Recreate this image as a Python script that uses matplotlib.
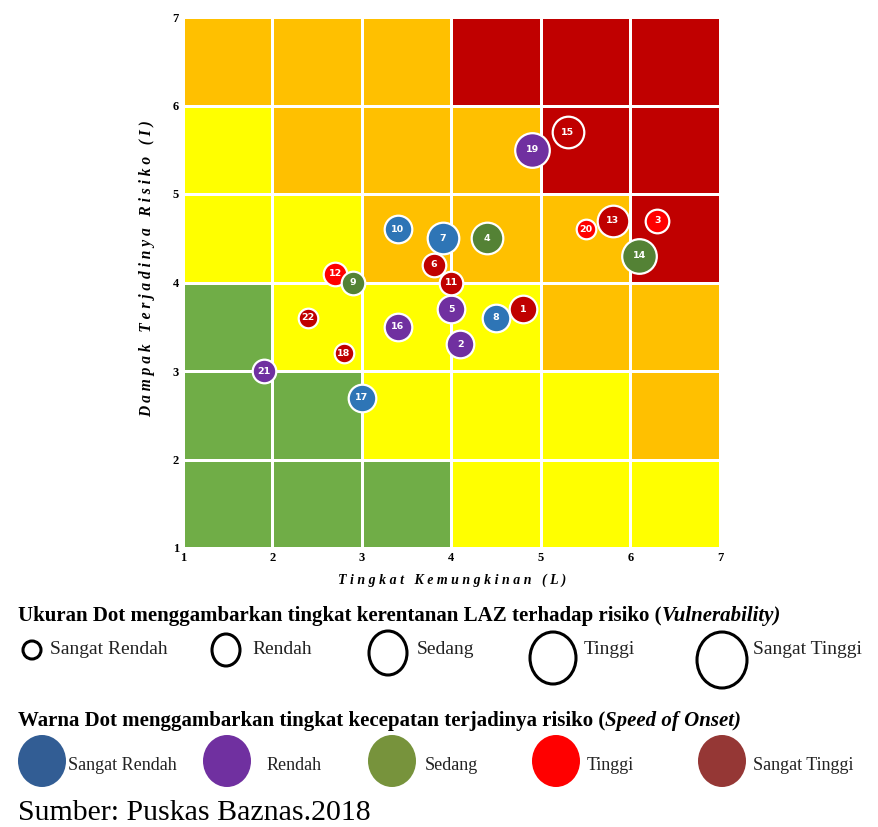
import numpy as np
import matplotlib
matplotlib.use("Agg")
import matplotlib.pyplot as plt
from matplotlib.colors import ListedColormap
from matplotlib.patches import Ellipse

plt.rcParams["font.family"] = ["Liberation Serif", "DejaVu Serif"]

# ── data ──────────────────────────────────────────────────────────────
# risk zone per cell, rows from I=1..2 (bottom) to I=6..7 (top)
# 0 = hijau, 1 = kuning, 2 = oranye, 3 = merah
zone_rows = [
    [0, 0, 0, 1, 1, 1],
    [0, 0, 1, 1, 1, 2],
    [0, 1, 1, 1, 2, 2],
    [1, 1, 2, 2, 2, 3],
    [1, 2, 2, 2, 3, 3],
    [2, 2, 2, 3, 3, 3],
]
zone_colors = ["#70AD47", "#FFFF00", "#FFC000", "#C00000"]

risk_id = list(range(1, 23))
likelihood = [4.8, 4.1, 6.3, 4.4, 4.0, 3.8, 3.9, 4.5, 2.9, 3.4, 4.0,
              2.7, 5.8, 6.1, 5.3, 3.4, 3.0, 2.8, 4.9, 5.5, 1.9, 2.4]
impact = [3.7, 3.3, 4.7, 4.5, 3.7, 4.2, 4.5, 3.6, 4.0, 4.6, 4.0,
          4.1, 4.7, 4.3, 5.7, 3.5, 2.7, 3.2, 5.5, 4.6, 3.0, 3.6]
# 1 = sangat rendah .. 5 = sangat tinggi
vulnerability = [3, 3, 2, 4, 3, 2, 4, 3, 2, 3, 2, 2, 4, 5, 4, 3, 3, 1, 5, 1, 2, 1]
speed = [5, 2, 4, 3, 2, 5, 1, 1, 3, 1, 5, 4, 5, 3, 5, 2, 1, 5, 2, 4, 2, 5]

draw_order = [1, 2, 3, 4, 5, 7, 6, 8, 10, 11, 12, 9, 14, 15, 16, 17, 18, 19, 20, 13, 21, 22]

level_names = ["Sangat Rendah", "Rendah", "Sedang", "Tinggi", "Sangat Tinggi"]
speed_colors = ["#2E75B6", "#7030A0", "#548235", "#FF0000", "#C00000"]
legend_speed_colors = ["#325D94", "#7030A0", "#77933C", "#FF0000", "#953735"]
dot_radius_px = {1: 10.5, 2: 12.5, 3: 14.5, 4: 16.5, 5: 18.0}

W, H = 879, 827
fig = plt.figure(figsize=(W / 100, H / 100), dpi=100)

# ── risk matrix ───────────────────────────────────────────────────────
ax = fig.add_axes([183 / W, 279 / H, 537 / W, 531 / H])
edges = np.arange(1, 8)
ax.pcolormesh(edges, edges, np.array(zone_rows), cmap=ListedColormap(zone_colors),
              vmin=-0.5, vmax=3.5, edgecolors="white", linewidth=2)

for rid in draw_order:
    i = risk_id.index(rid)
    r = dot_radius_px[vulnerability[i]]
    d_pt = 2 * r * 0.72 - 1.0
    ax.scatter(likelihood[i], impact[i], s=d_pt ** 2, color=speed_colors[speed[i] - 1],
               edgecolors="white", linewidths=1.6, zorder=3)
    ax.text(likelihood[i], impact[i], str(rid), color="white", fontsize=6.8,
            fontweight="bold", family="DejaVu Sans", ha="center", va="center", zorder=4)

ax.set_xlim(1, 7)
ax.set_ylim(1, 7)
ax.set_xticks(edges)
ax.set_yticks(edges)
ax.tick_params(length=0, labelsize=9, pad=3)
for lbl in ax.get_xticklabels() + ax.get_yticklabels():
    lbl.set_fontweight("bold")
for s in ax.spines.values():
    s.set_visible(False)


def spaced(text):
    return "   ".join(" ".join(w) for w in text.split(" "))


fig.text(452 / W, 1 - 580 / H, spaced("Tingkat Kemungkinan (L)"), ha="center", va="center",
         fontsize=10, fontweight="bold", style="italic")
fig.text(147 / W, 1 - 269 / H, spaced("Dampak Terjadinya Risiko (I)"), ha="center", va="center",
         rotation=90, fontsize=11.2, fontweight="bold", style="italic")

# ── legends (pixel coordinates) ──────────────────────────────────────
leg = fig.add_axes([0, 0, 1, 1])
leg.set_xlim(0, W)
leg.set_ylim(H, 0)
leg.axis("off")
leg.patch.set_visible(False)
fig.canvas.draw()
renderer = fig.canvas.get_renderer()


def mixed_title(x, y, plain, italic, size):
    t = leg.text(x, y, plain, fontsize=size, fontweight="bold", va="baseline")
    bb = t.get_window_extent(renderer)
    x_end = leg.transData.inverted().transform((bb.x1, bb.y0))[0]
    leg.text(x_end, y, italic, fontsize=size, fontweight="bold", style="italic", va="baseline")


mixed_title(18, 621, "Ukuran Dot menggambarkan tingkat kerentanan LAZ terhadap risiko (",
            "Vulnerability)", 15)
mixed_title(18, 726, "Warna Dot menggambarkan tingkat kecepatan terjadinya risiko (",
            "Speed of Onset)", 15)

# size legend
ring_x = [32, 226, 388, 553, 722]
ring_y = [650, 650, 653, 658, 660]
ring_rx = [9, 14, 19, 23, 25]
ring_ry = [9, 16, 22, 26, 28]
size_text_x = [50, 252, 417, 584, 753]
for k, name in enumerate(level_names):
    leg.add_patch(Ellipse((ring_x[k], ring_y[k]), 2 * ring_rx[k], 2 * ring_ry[k],
                          facecolor="none", edgecolor="black", linewidth=2.2))
    leg.text(size_text_x[k], 649, name, fontsize=14, va="center", color="#222222")

# colour legend
blob_x = [42, 227, 392, 556, 722]
color_text_x = [68, 267, 425, 587, 753]
for k, name in enumerate(level_names):
    leg.add_patch(Ellipse((blob_x[k], 761), 48, 52, facecolor=legend_speed_colors[k],
                          edgecolor="none"))
    leg.text(color_text_x[k], 765, name, fontsize=13, va="center", color="#222222")

leg.text(18, 820, "Sumber: Puskas Baznas.2018", fontsize=21.5, va="baseline")

fig.savefig("out.png", dpi=100)
